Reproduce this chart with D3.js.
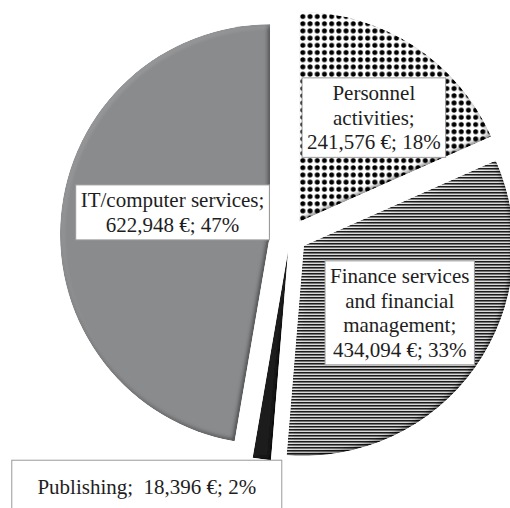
<!DOCTYPE html>
<html>
<head>
<meta charset="utf-8">
<script src="https://cdn.jsdelivr.net/npm/d3@7"></script>
<style>
  html, body { margin: 0; padding: 0; background: #fff; }
  svg { display: block; }
</style>
</head>
<body>
<svg id="chart" width="510" height="508"></svg>
<script>
// ---- data ----
const categories = ["Personnel activities", "Finance services and financial management", "Publishing", "IT/computer services"];
const values = [241576, 434094, 18396, 622948];
const percents = [18, 33, 2, 47];
const labelLines = [["Personnel", "activities;"], ["Finance services", "and financial", "management;"], ["Publishing;"], ["IT/computer services;"]];

// ---- layout ----
const W = 510, H = 508;
const cx = 290, cy = 236, R = 210;
const explode = [17, 17, 15, 20];
const fontSize = 21, lineH = 24.5;

const svg = d3.select("#chart");
const defs = svg.append("defs");

// dot pattern (Personnel)
const pDots = defs.append("pattern").attr("id", "dots").attr("patternUnits", "userSpaceOnUse")
  .attr("width", 7.2).attr("height", 7.2);
pDots.append("rect").attr("width", 7.2).attr("height", 7.2).attr("fill", "#fff");
pDots.append("circle").attr("cx", 3.6).attr("cy", 3.6).attr("r", 2.5).attr("fill", "#000");

// horizontal line pattern (Finance)
const pLines = defs.append("pattern").attr("id", "hlines").attr("patternUnits", "userSpaceOnUse")
  .attr("width", 6).attr("height", 3);
pLines.append("rect").attr("width", 6).attr("height", 3).attr("fill", "#fff");
pLines.append("rect").attr("width", 6).attr("height", 1.7).attr("fill", "#111");

// bevel filter
const f = defs.append("filter").attr("id", "bevel")
  .attr("x", "-5%").attr("y", "-5%").attr("width", "110%").attr("height", "110%");
f.append("feGaussianBlur").attr("in", "SourceAlpha").attr("stdDeviation", 2.5).attr("result", "blur");
const dl = f.append("feDiffuseLighting").attr("in", "blur").attr("surfaceScale", 3)
  .attr("diffuseConstant", 1).attr("lighting-color", "#fff").attr("result", "light");
dl.append("feDistantLight").attr("azimuth", 225).attr("elevation", 58);
f.append("feComposite").attr("in", "SourceGraphic").attr("in2", "light")
  .attr("operator", "arithmetic").attr("k1", 1.18).attr("k2", 0).attr("k3", 0).attr("k4", 0).attr("result", "lit");
f.append("feComposite").attr("in", "lit").attr("in2", "SourceAlpha").attr("operator", "in");

const fills = ["url(#dots)", "url(#hlines)", "#1c1c1c", "#8a8b8d"];

const pie = d3.pie().sort(null).value(d => d)(values);
const arc = d3.arc().innerRadius(0).outerRadius(R);

const g = svg.append("g").attr("transform", `translate(${cx},${cy})`);

function sliceOffset(d, i) {
  const mid = (d.startAngle + d.endAngle) / 2;
  return [Math.sin(mid) * explode[i], -Math.cos(mid) * explode[i]];
}

g.selectAll("path.slice").data(pie).join("path")
  .attr("class", "slice")
  .attr("d", arc)
  .attr("transform", (d, i) => { const [x, y] = sliceOffset(d, i); return `translate(${x},${y})`; })
  .attr("fill", (d, i) => fills[i])
  .attr("filter", "url(#bevel)");

// ---- labels ----
const fmt = d3.format(",");
// label placement: polar offset from each slice's (exploded) centre
const labelPlace = [
  { da: 2.6, k: 0.61 },
  { da: -0.4, k: 0.557 },
  null,
  { da: 7.8, k: 0.476 }
];

const labelG = svg.append("g")
  .attr("font-family", "'Liberation Serif', 'Times New Roman', serif")
  .attr("font-size", fontSize).attr("fill", "#1e1e1e");

pie.forEach((d, i) => {
  const [ox, oy] = sliceOffset(d, i);
  const mid = (d.startAngle + d.endAngle) / 2;
  const valText = fmt(values[i]) + " €; " + percents[i] + "%";
  let lines, lx, ly, minW = 0, outside = false;
  if (labelPlace[i]) {
    const a = mid + labelPlace[i].da * Math.PI / 180;
    const r = labelPlace[i].k * R;
    lx = cx + ox + Math.sin(a) * r;
    ly = cy + oy - Math.cos(a) * r;
    lines = labelLines[i].concat([valText]);
  } else {
    // Publishing: label box placed below-left of the slice's outer tip
    const tipX = cx + ox + Math.sin(mid) * R;
    const tipY = cy + oy - Math.cos(mid) * R;
    lx = tipX - 115;
    ly = tipY + 28;
    lines = [labelLines[i][0] + "\u00a0 " + valText];
    minW = 270;
    outside = true;
  }
  const lg = labelG.append("g");
  const rect = lg.append("rect");
  const n = lines.length;
  const texts = lines.map((t, j) => lg.append("text")
    .attr("x", lx)
    .attr("y", ly + (j - (n - 1) / 2) * lineH + fontSize * 0.34)
    .attr("text-anchor", "middle")
    .text(t));
  const maxW = d3.max(texts, t => t.node().getComputedTextLength());
  const bw = Math.max(maxW + 10, minW);
  const bh = n * lineH + 6;
  const top = outside ? ly - 27 : ly - bh / 2;
  rect.attr("x", lx - bw / 2).attr("y", top)
    .attr("width", bw).attr("height", outside ? 70 : bh)
    .attr("fill", "#fff").attr("stroke", "#9a9a9a").attr("stroke-width", 1);
});
</script>
</body>
</html>
